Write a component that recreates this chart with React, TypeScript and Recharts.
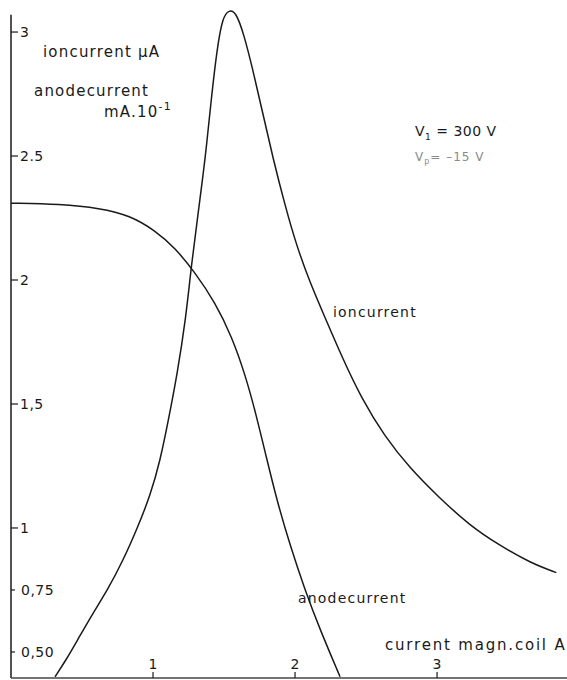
import React from "react";
import { ComposedChart, Line, XAxis, YAxis, ReferenceLine } from "recharts";

// ion current (μA) vs current magn. coil (A)
const ionX = [0.31, 0.39, 0.47, 0.57, 0.68, 0.79, 0.89, 0.98, 1.05, 1.11, 1.17, 1.23, 1.27, 1.32, 1.37, 1.41, 1.45, 1.49, 1.535, 1.585, 1.64, 1.7, 1.77, 1.845, 1.93, 2.01, 2.105, 2.21, 2.33, 2.47, 2.63, 2.81, 3.01, 3.23, 3.44, 3.655, 3.84];
const ionY = [0.4, 0.47, 0.55, 0.65, 0.75, 0.87, 1.0, 1.13, 1.27, 1.44, 1.62, 1.84, 2.06, 2.28, 2.5, 2.73, 2.93, 3.06, 3.09, 3.08, 2.99, 2.855, 2.68, 2.49, 2.3, 2.14, 1.99, 1.85, 1.69, 1.52, 1.37, 1.24, 1.125, 1.01, 0.93, 0.86, 0.82];

// anode current (mA·10^-1) vs current magn. coil (A)
const anodeX = [0, 0.345, 0.627, 0.838, 1.014, 1.155, 1.296, 1.437, 1.556, 1.648, 1.725, 1.796, 1.873, 1.965, 2.07, 2.176, 2.317];
const anodeY = [2.31, 2.306, 2.29, 2.26, 2.2, 2.13, 2.03, 1.91, 1.77, 1.62, 1.46, 1.29, 1.11, 0.93, 0.75, 0.59, 0.4];

const xTicks = [1, 2, 3];
const xTickLabels = ["1", "2", "3"];
const yTicks = [0.5, 0.75, 1, 1.5, 2, 2.5, 3];
const yTickLabels = ["0,50", "0,75", "1", "1,5", "2", "2.5", "3"];

const ionData = ionX.map((x, i) => ({ x, ion: ionY[i] }));
const anodeData = anodeX.map((x, i) => ({ x, anode: anodeY[i] }));

const FONT = "'DejaVu Sans', sans-serif";
const INK = "#1a1a1a";

const YTick = (props: any) => {
  const { x, y, payload } = props;
  const idx = yTicks.indexOf(payload.value);
  const label = yTickLabels[idx];
  const small = payload.value < 1;
  return (
    <g>
      <line x1={x} x2={x + (small ? 4 : 7)} y1={y} y2={y} stroke={INK} strokeWidth={1.2} />
      <text x={x + (small ? 10 : 9)} y={y} dy="0.36em" fontSize={14} fontFamily={FONT} fill={INK} letterSpacing={0.5}>
        {label}
      </text>
    </g>
  );
};

const XTick = (props: any) => {
  const { x, y, payload } = props;
  const idx = xTicks.indexOf(payload.value);
  return (
    <g>
      <line x1={x} x2={x} y1={y} y2={y - 6} stroke={INK} strokeWidth={1.2} />
      <text x={x} y={y - 9} textAnchor="middle" fontSize={14} fontFamily={FONT} fill={INK}>
        {xTickLabels[idx]}
      </text>
    </g>
  );
};

const textStyle = { fontFamily: FONT, fill: INK, letterSpacing: 1.2 } as const;

export default function App() {
  return (
    <div style={{ position: "absolute", left: 0, top: 0, width: 567, height: 680, background: "#fff" }}>
      <ComposedChart width={567} height={680} margin={{ top: 5, right: 0, bottom: 1, left: 0 }}>
        <XAxis
          dataKey="x"
          type="number"
          domain={[0, 3.915]}
          ticks={xTicks}
          height={1}
          tickSize={0}
          tickMargin={0}
          tick={<XTick />}
          axisLine={{ stroke: "#444", strokeWidth: 1.5 }}
          tickLine={false}
          allowDataOverflow
        />
        <YAxis
          type="number"
          domain={[0.395, 3.109]}
          ticks={yTicks}
          width={11}
          tickSize={0}
          tickMargin={0}
          tick={<YTick />}
          axisLine={false}
          tickLine={false}
          allowDataOverflow
          interval={0}
        />
        <ReferenceLine
          segment={[{ x: 0, y: 3.07 }, { x: 0, y: 0.395 }]}
          stroke={INK}
          strokeWidth={1.5}
          ifOverflow="visible"
        />
        <Line data={anodeData} dataKey="anode" type="basis" stroke={INK} strokeWidth={1.5} dot={false} isAnimationActive={false} />
        <Line data={ionData} dataKey="ion" type="basis" stroke={INK} strokeWidth={1.5} dot={false} isAnimationActive={false} />
      </ComposedChart>
      <svg width={567} height={680} style={{ position: "absolute", left: 0, top: 0, pointerEvents: "none" }}>
        <text x={43} y={57} fontSize={15} {...textStyle}>ioncurrent μA</text>
        <text x={34} y={96} fontSize={15} {...textStyle}>anodecurrent</text>
        <text x={104} y={117} fontSize={15} {...textStyle}>
          mA.10<tspan dy={-7} fontSize={11}>-1</tspan>
        </text>
        <text x={415} y={136} fontSize={14} {...textStyle} letterSpacing={0.5}>
          V<tspan dy={4} fontSize={9}>1</tspan><tspan dy={-4}> = 300 V</tspan>
        </text>
        <text x={415} y={161} fontSize={12} fill="#8a8a8a" fontFamily={FONT} letterSpacing={1}>
          V<tspan dy={3} fontSize={8}>p</tspan><tspan dy={-3}>= –15 V</tspan>
        </text>
        <text x={333} y={317} fontSize={14} {...textStyle}>ioncurrent</text>
        <text x={298} y={603} fontSize={14} {...textStyle}>anodecurrent</text>
        <text x={385} y={650} fontSize={15} {...textStyle} letterSpacing={1.8}>current magn.coil A</text>
      </svg>
    </div>
  );
}
